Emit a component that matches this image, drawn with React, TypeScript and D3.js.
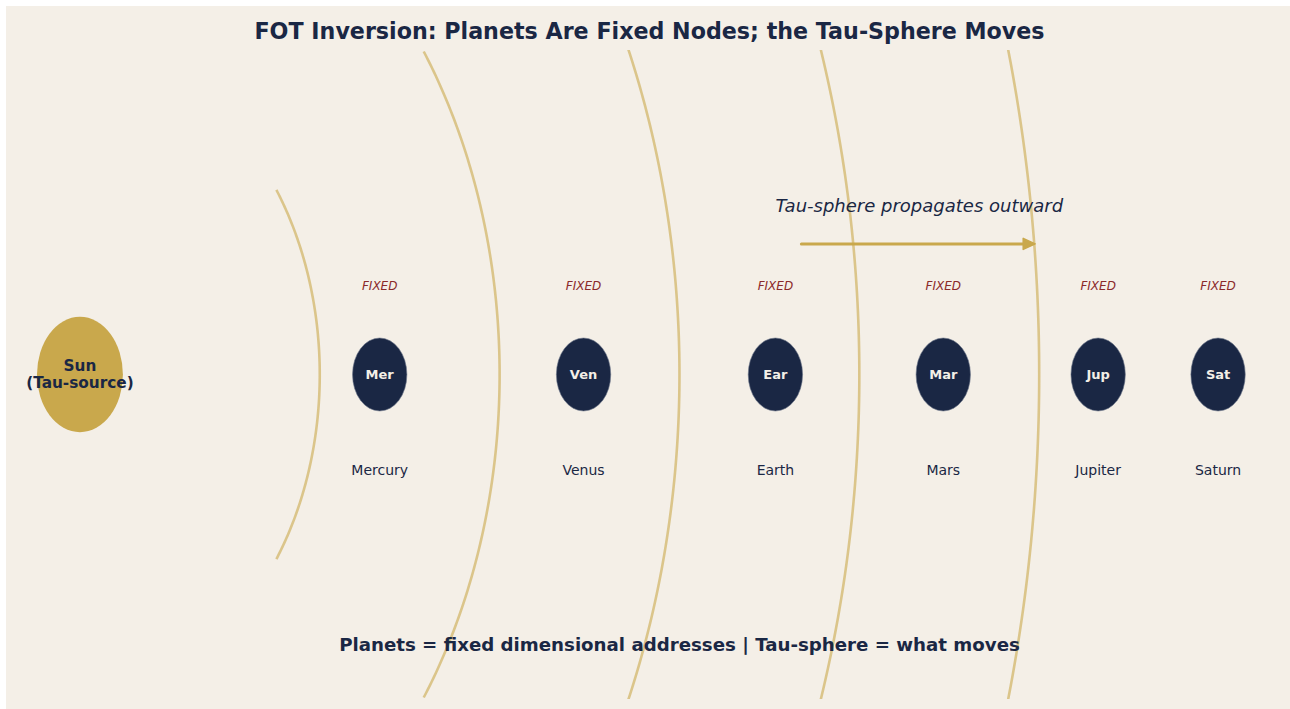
import React, { useEffect, useRef } from "react";
import * as d3 from "d3";

// planets sit at fixed x positions (data units from the Sun)
const planetNames = ["Mercury", "Venus", "Earth", "Mars", "Jupiter", "Saturn"];
const planetAbbr = ["Mer", "Ven", "Ear", "Mar", "Jup", "Sat"];
const planetX = [1.5, 2.52, 3.48, 4.32, 5.095, 5.695];

// tau-sphere wavefront radii
const sphereRadii = [1.2, 2.1, 3.0, 3.9, 4.8];

const sunRadius = 0.215;
const planetRadius = 0.136;

const NAVY = "#1a2744";
const GOLD = "#c9a84c";
const BG = "#f4efe7";
const RED = "#8b2a2a";
const FONT = "DejaVu Sans, sans-serif";

const App = () => {
  const ref = useRef<SVGSVGElement | null>(null);
  const width = 1290;
  const height = 709;

  useEffect(() => {
    const svg = d3.select(ref.current);
    svg.selectAll("*").remove();

    // axes area
    const x = d3.scaleLinear().domain([-0.37, 6.055]).range([6, 1290]);
    const y = d3.scaleLinear().domain([-1.21, 1.21]).range([699, 50]);

    svg.append("rect").attr("x", 0).attr("y", 0).attr("width", width).attr("height", height).attr("fill", "#ffffff");
    svg.append("rect").attr("x", 6).attr("y", 6).attr("width", width - 6).attr("height", height - 6).attr("fill", BG);

    svg
      .append("defs")
      .append("clipPath")
      .attr("id", "axes-clip")
      .append("rect")
      .attr("x", x.range()[0])
      .attr("y", y.range()[1])
      .attr("width", x.range()[1] - x.range()[0])
      .attr("height", y.range()[0] - y.range()[1]);

    const g = svg.append("g").attr("clip-path", "url(#axes-clip)");

    // wavefronts: arcs of +-35 degrees around the Sun
    const thetas = d3.range(-35, 35.01, 0.5).map((d) => (d * Math.PI) / 180);
    sphereRadii.forEach((r) => {
      const line = d3
        .line<number>()
        .x((t) => x(r * Math.cos(t)))
        .y((t) => y(r * Math.sin(t)));
      g.append("path")
        .attr("d", line(thetas))
        .attr("fill", "none")
        .attr("stroke", GOLD)
        .attr("stroke-opacity", 0.6)
        .attr("stroke-width", 2.6);
    });

    // Sun
    g.append("ellipse")
      .attr("cx", x(0))
      .attr("cy", y(0))
      .attr("rx", x(sunRadius) - x(0))
      .attr("ry", y(0) - y(sunRadius))
      .attr("fill", GOLD);

    const sunText = g
      .append("text")
      .attr("x", x(0))
      .attr("y", y(0))
      .attr("text-anchor", "middle")
      .style("font-family", FONT)
      .style("font-size", "15.3px")
      .style("font-weight", "bold")
      .style("fill", NAVY);
    sunText.append("tspan").attr("x", x(0)).attr("dy", "-3.5px").text("Sun");
    sunText.append("tspan").attr("x", x(0)).attr("dy", "16.5px").text("(Tau-source)");

    // planets
    const planets = g
      .selectAll("g.planet")
      .data(planetX.map((px, i) => ({ px, name: planetNames[i], abbr: planetAbbr[i] })))
      .enter()
      .append("g")
      .attr("class", "planet");

    planets
      .append("ellipse")
      .attr("cx", (d) => x(d.px))
      .attr("cy", y(0))
      .attr("rx", x(planetRadius) - x(0))
      .attr("ry", y(0) - y(planetRadius))
      .attr("fill", NAVY)
      .attr("stroke", "#6a7388")
      .attr("stroke-width", 0.6);

    planets
      .append("text")
      .attr("x", (d) => x(d.px))
      .attr("y", y(0))
      .attr("text-anchor", "middle")
      .attr("dominant-baseline", "central")
      .style("font-family", FONT)
      .style("font-size", "13px")
      .style("font-weight", "bold")
      .style("fill", BG)
      .text((d) => d.abbr);

    planets
      .append("text")
      .attr("x", (d) => x(d.px))
      .attr("y", y(0.33))
      .attr("text-anchor", "middle")
      .attr("dominant-baseline", "central")
      .style("font-family", FONT)
      .style("font-size", "12px")
      .style("font-style", "italic")
      .style("fill", RED)
      .text("FIXED");

    planets
      .append("text")
      .attr("x", (d) => x(d.px))
      .attr("y", y(-0.356))
      .attr("text-anchor", "middle")
      .attr("dominant-baseline", "central")
      .style("font-family", FONT)
      .style("font-size", "14px")
      .style("fill", NAVY)
      .text((d) => d.name);

    // arrow
    const ax0 = 3.61;
    const ax1 = 4.78;
    const ay = 0.487;
    g.append("line")
      .attr("x1", x(ax0))
      .attr("y1", y(ay))
      .attr("x2", x(ax1) - 8)
      .attr("y2", y(ay))
      .attr("stroke", GOLD)
      .attr("stroke-width", 3)
      .attr("stroke-linecap", "round");
    g.append("path")
      .attr(
        "d",
        `M${x(ax1)},${y(ay)} L${x(ax1) - 12},${y(ay) - 5.5} L${x(ax1) - 12},${y(ay) + 5.5} Z`
      )
      .attr("fill", GOLD)
      .attr("stroke", GOLD)
      .attr("stroke-width", 1.5)
      .attr("stroke-linejoin", "round");

    g.append("text")
      .attr("x", x(4.2))
      .attr("y", y(0.63))
      .attr("text-anchor", "middle")
      .attr("dominant-baseline", "central")
      .style("font-family", FONT)
      .style("font-size", "18px")
      .style("font-style", "italic")
      .style("fill", NAVY)
      .text("Tau-sphere propagates outward");

    g.append("text")
      .attr("x", x(3.0))
      .attr("y", y(-1.007))
      .attr("text-anchor", "middle")
      .attr("dominant-baseline", "central")
      .style("font-family", FONT)
      .style("font-size", "18.2px")
      .style("font-weight", "bold")
      .style("fill", NAVY)
      .text("Planets = fixed dimensional addresses | Tau-sphere = what moves");

    // title
    svg
      .append("text")
      .attr("x", 649.5)
      .attr("y", 31)
      .attr("text-anchor", "middle")
      .attr("dominant-baseline", "central")
      .style("font-family", FONT)
      .style("font-size", "22.2px")
      .style("font-weight", "bold")
      .style("fill", NAVY)
      .text("FOT Inversion: Planets Are Fixed Nodes; the Tau-Sphere Moves");
  }, []);

  return (
    <svg
      ref={ref}
      width={width}
      height={height}
      style={{ position: "absolute", left: 0, top: 0, display: "block" }}
    />
  );
};

export default App;
